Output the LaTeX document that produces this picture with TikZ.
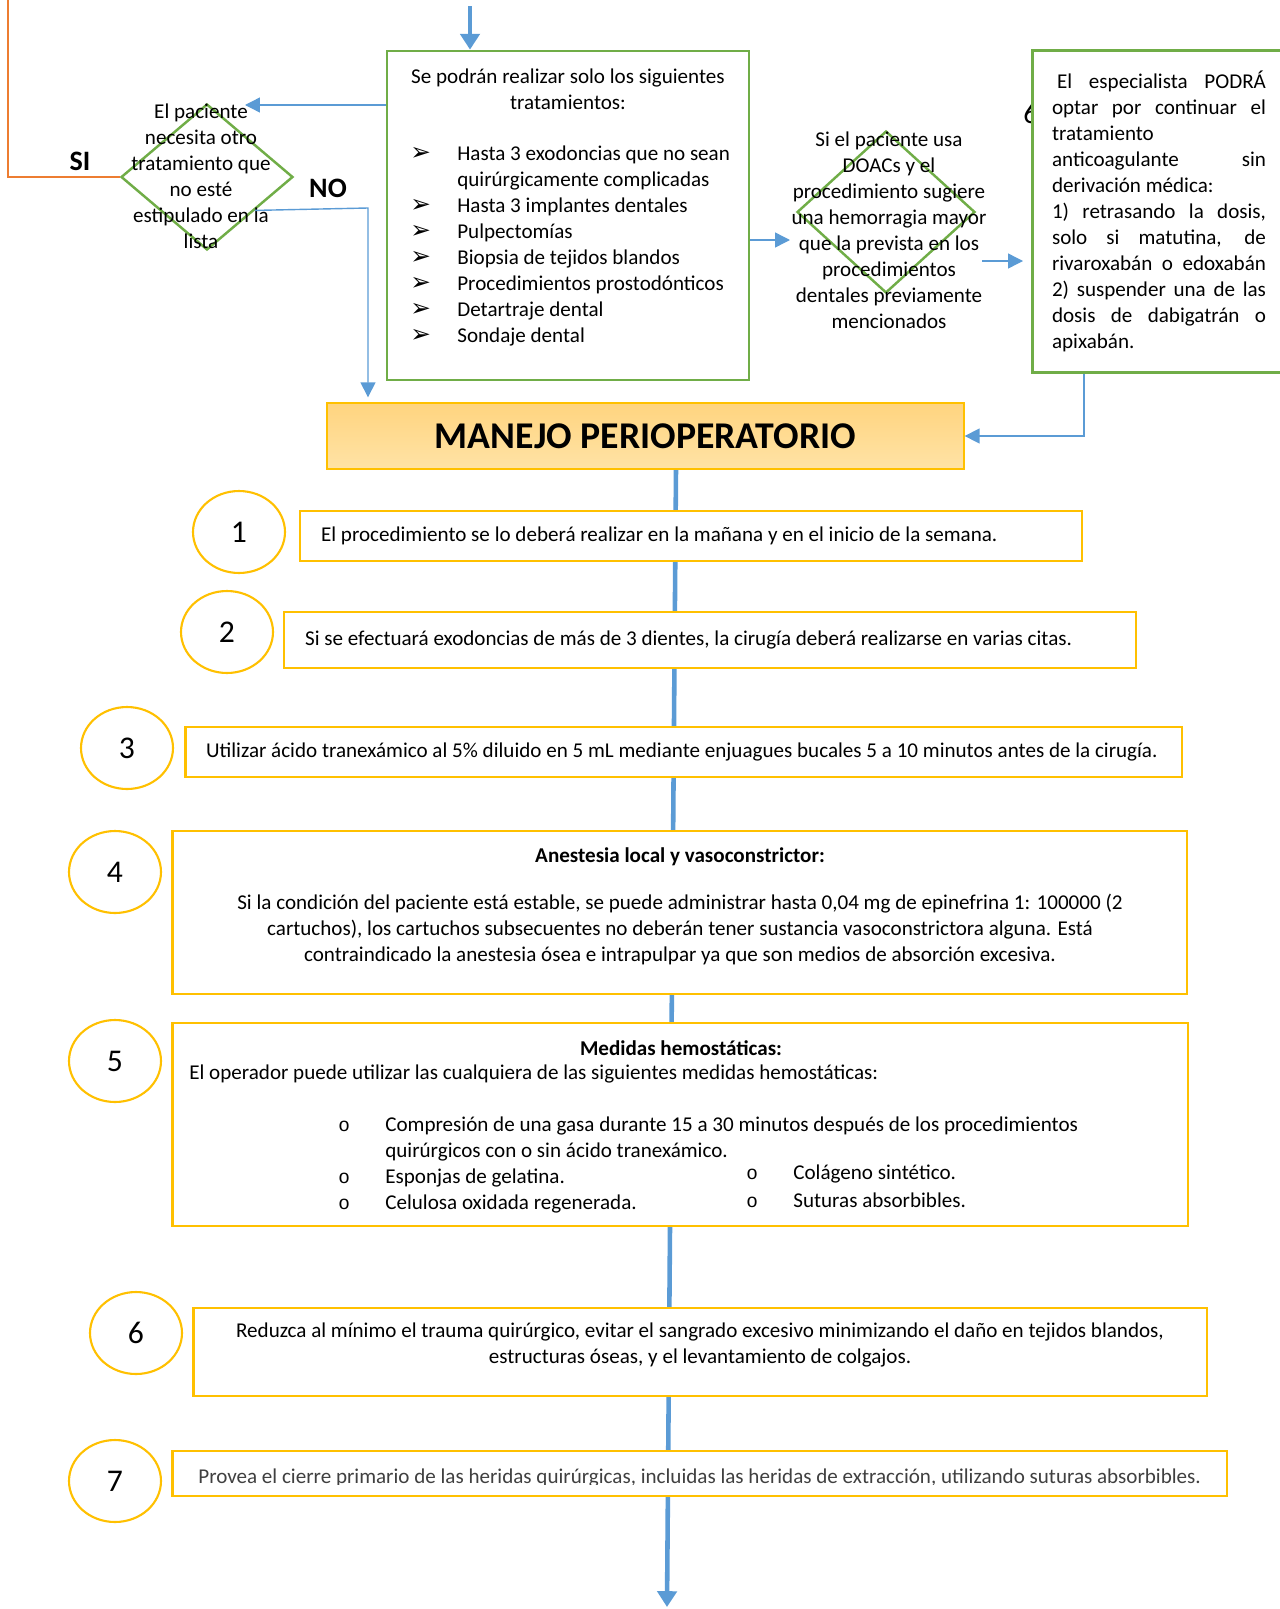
\documentclass[tikz,border=0pt]{standalone}
\usepackage{fontspec}
\setmainfont{Carlito}
\newfontfamily\simbolos{DejaVu Sans}
\newfontfamily\mono{Liberation Mono}
\usepackage{tikz}
\usetikzlibrary{ positioning, arrows.meta, calc, shapes.geometric }
\usepackage{xcolor}
\definecolor{verde}{HTML}{70AD47}
\definecolor{azul}{HTML}{5B9BD5}
\definecolor{naranja}{HTML}{ED7D31}
\definecolor{amarillo}{HTML}{FFC000}
\definecolor{crema}{HTML}{FFD47F}
\definecolor{crema2}{HTML}{FFE3A6}
\definecolor{gris}{HTML}{404040}
\newcommand{\flechita}{{\simbolos\fontsize{14}{14.8}\selectfont ➢}}
\newcommand{\circulito}{{\mono\fontsize{11}{14.8}\selectfont o}}

\begin{document}
\begin{tikzpicture}[
  x=0.02cm, y=-0.02cm,
  every node/.style={font=\fontsize{12}{14.8}\selectfont, inner sep=0pt},
  caja/.style={rectangle, draw=verde, line width=1.6pt, fill=white},
  rombo/.style={diamond, draw=verde, line width=1.4pt, inner sep=0pt},
  paso/.style={rectangle, draw=amarillo, line width=1.6pt, fill=white},
  num/.style={ellipse, draw=amarillo, line width=1.2pt, fill=white,
              minimum width=1.84cm, minimum height=1.64cm,
              font=\fontsize{18}{20}\selectfont},
  flecha/.style={azul, line width=0.8pt, -{Triangle[length=8.5pt, width=8.5pt]}},
  grueso/.style={azul, line width=2.8pt, -{Triangle[length=9pt, width=11pt]}},
  retro/.style={draw=naranja, line width=0.9pt},
  sino/.style={font=\fontsize{16}{18}\selectfont\bfseries},
]
  \useasboundingbox (0,0) rectangle (1279,1609);

  % eje central (queda detras de las cajas)
  \coordinate (ejeA) at (676,469);
  \coordinate (ejeB) at (667,1607);
  \draw[grueso, line width=2.6pt] (ejeA) -- (ejeB);

  % lista de tratamientos
  \node[caja, minimum width=7.24cm, minimum height=6.58cm] (lista) at (568,215.5) {};
  \node[align=center] (lista-tit) at (568,89) {Se podrán realizar solo los siguientes\\tratamientos:};
  \node[align=left, anchor=west] (lista-items) at (410,245.5) {%
    \makebox[0.94cm][l]{\flechita}Hasta 3 exodoncias que no sean\\
    \hspace*{0.94cm}quirúrgicamente complicadas\\
    \makebox[0.94cm][l]{\flechita}Hasta 3 implantes dentales\\
    \makebox[0.94cm][l]{\flechita}Pulpectomías\\
    \makebox[0.94cm][l]{\flechita}Biopsia de tejidos blandos\\
    \makebox[0.94cm][l]{\flechita}Procedimientos prostodónticos\\
    \makebox[0.94cm][l]{\flechita}Detartraje dental\\
    \makebox[0.94cm][l]{\flechita}Sondaje dental};

  % primera decision
  \node[rombo, minimum width=3.44cm, minimum height=2.92cm] (decision1) at (207,177) {};
  \node[align=center] (decision1-txt) at (201,176) {El paciente\\necesita otro\\tratamiento que\\no esté\\estipulado en la\\lista};
  \node[sino] (si) at (80,161) {SI};
  \node[sino] (no) at (328,188) {NO};

  % segunda decision
  \node[rombo, minimum width=3.56cm, minimum height=3.24cm] (decision2) at (886,212) {};
  \node[align=center] (decision2-txt) at (889,230) {Si el paciente usa\\DOACs y el\\procedimiento sugiere\\una hemorragia mayor\\que la prevista en los\\procedimientos\\dentales previamente\\mencionados};

  % especialista
  \node[font=\fontsize{17}{20}\selectfont] (seis) at (1031,114) {6};
  \node[caja, anchor=north west, minimum width=5.4cm, minimum height=6.44cm] (especialista) at (1031,49) {};
  \node[align=left] (especialista-txt) at (1159,211) {%
    \makebox[4.28cm][s]{\hspace*{0.1cm}El especialista PODRÁ}\\
    \makebox[4.28cm][s]{optar por continuar el}\\
    tratamiento\\
    \makebox[4.28cm][s]{anticoagulante sin}\\
    derivación médica:\\
    \makebox[4.28cm][s]{1) retrasando la dosis,}\\
    \makebox[4.28cm][s]{solo si matutina, de}\\
    \makebox[4.28cm][s]{rivaroxabán o edoxabán}\\
    \makebox[4.28cm][s]{2) suspender una de las}\\
    \makebox[4.28cm][s]{dosis de dabigatrán o}\\
    apixabán.};

  % titulo
  \node[draw=amarillo, line width=0.8pt, top color=crema, bottom color=crema2,
        minimum width=12.74cm, minimum height=1.32cm,
        font=\fontsize{21.5}{24}\selectfont\bfseries] (manejo) at (645.5,436) {MANEJO PERIOPERATORIO};

  % conectores de arriba
  \coordinate (entrada) at (470,6);
  \draw[grueso] (entrada) -- (entrada |- lista.north);
  \coordinate (retorno) at (8,0);
  \draw[retro] (retorno) |- (decision1.west);
  \coordinate (c1) at (245,105);
  \draw[flecha] (lista.west |- c1) -- (c1);
  \coordinate (codo) at (368,208);
  \draw[flecha, shorten >=0.1cm] ($(decision1.east)!0.45!(decision1.south)$) -- (codo) -- (codo |- manejo.north);
  \coordinate (f2) at (790,240);
  \draw[flecha] (lista.east |- f2) -- (f2);
  \coordinate (f3a) at (982,261);
  \coordinate (f3b) at (1023,261);
  \draw[flecha] (f3a) -- (f3b);
  \coordinate (baja) at (1084,380);
  \draw[flecha] (especialista.south -| baja) |- (manejo.east);

  % pasos
  \node[num] (n1) at (239,532) {1};
  \node[num] (n2) at (227,632) {2};
  \node[num] (n3) at (127,748) {3};
  \node[num] (n4) at (115,872) {4};
  \node[num] (n5) at (115,1061) {5};
  \node[num] (n6) at (136,1333) {6};
  \node[num] (n7) at (115,1481) {7};

  \node[paso, minimum width=15.64cm, minimum height=1.0cm, text width=14.8cm, inner xsep=0.42cm, align=flush left] (paso1) at (691,536)
    {El procedimiento se lo deberá realizar en la mañana y en el inicio de la semana.};
  \node[paso, minimum width=17.04cm, minimum height=1.12cm, text width=16.2cm, inner xsep=0.42cm, align=flush left] (paso2) at (710,640)
    {Si se efectuará exodoncias de más de 3 dientes, la cirugía deberá realizarse en varias citas.};
  \node[paso, minimum width=19.94cm, minimum height=1.0cm, text width=19.1cm, inner xsep=0.42cm, align=flush left] (paso3) at (683.5,752)
    {Utilizar ácido tranexámico al 5\% diluido en 5 mL mediante enjuagues bucales 5 a 10 minutos antes de la cirugía.};

  \node[paso, minimum width=20.3cm, minimum height=3.26cm] (paso4) at (679.5,912.5) {};
  \node[align=center] (paso4-txt) at (680,906) {\textbf{Anestesia local y vasoconstrictor:}\\[0.42cm]
    Si la condición del paciente está estable, se puede administrar hasta 0,04 mg de epinefrina 1: 100000 (2\\
    cartuchos), los cartuchos subsecuentes no deberán tener sustancia vasoconstrictora alguna. Está\\
    contraindicado la anestesia ósea e intrapulpar ya que son medios de absorción excesiva.};

  \node[paso, minimum width=20.32cm, minimum height=4.06cm] (paso5) at (680,1124.5) {};
  \node[font=\fontsize{12}{14.8}\selectfont\bfseries] (paso5-tit) at (681,1048) {Medidas hemostáticas:};
  \node[anchor=west] (paso5-intro) at (189,1074) {El operador puede utilizar las cualquiera de las siguientes medidas hemostáticas:};
  \node[align=left, anchor=west] (paso5-izq) at (338,1165) {%
    \makebox[0.94cm][l]{\circulito}Compresión de una gasa durante 15 a 30 minutos después de los procedimientos\\
    \hspace*{0.94cm}quirúrgicos con o sin ácido tranexámico.\\
    \makebox[0.94cm][l]{\circulito}Esponjas de gelatina.\\
    \makebox[0.94cm][l]{\circulito}Celulosa oxidada regenerada.};
  \node[align=left, anchor=west, font=\fontsize{12}{15.9}\selectfont] (paso5-der) at (746,1186) {%
    \makebox[0.94cm][l]{\circulito}Colágeno sintético.\\
    \makebox[0.94cm][l]{\circulito}Suturas absorbibles.};

  \node[paso, minimum width=20.28cm, minimum height=1.76cm] (paso6) at (700,1352) {};
  \node[align=center] (paso6-txt) at (700,1345) {Reduzca al mínimo el trauma quirúrgico, evitar el sangrado excesivo minimizando el daño en tejidos blandos,\\
    estructuras óseas, y el levantamiento de colgajos.};

  \node[paso, minimum width=21.1cm, minimum height=0.9cm] (paso7) at (699.5,1473.5) {};
  \coordinate (corte) at (1227,1484);
  \begin{scope}
    \clip (paso7.north west) rectangle (corte);
    \node[anchor=west, text=gris] (paso7-txt) at (198,1478) {Provea el cierre primario de las heridas quirúrgicas, incluidas las heridas de extracción, utilizando suturas absorbibles.};
  \end{scope}
\end{tikzpicture}
\end{document}
